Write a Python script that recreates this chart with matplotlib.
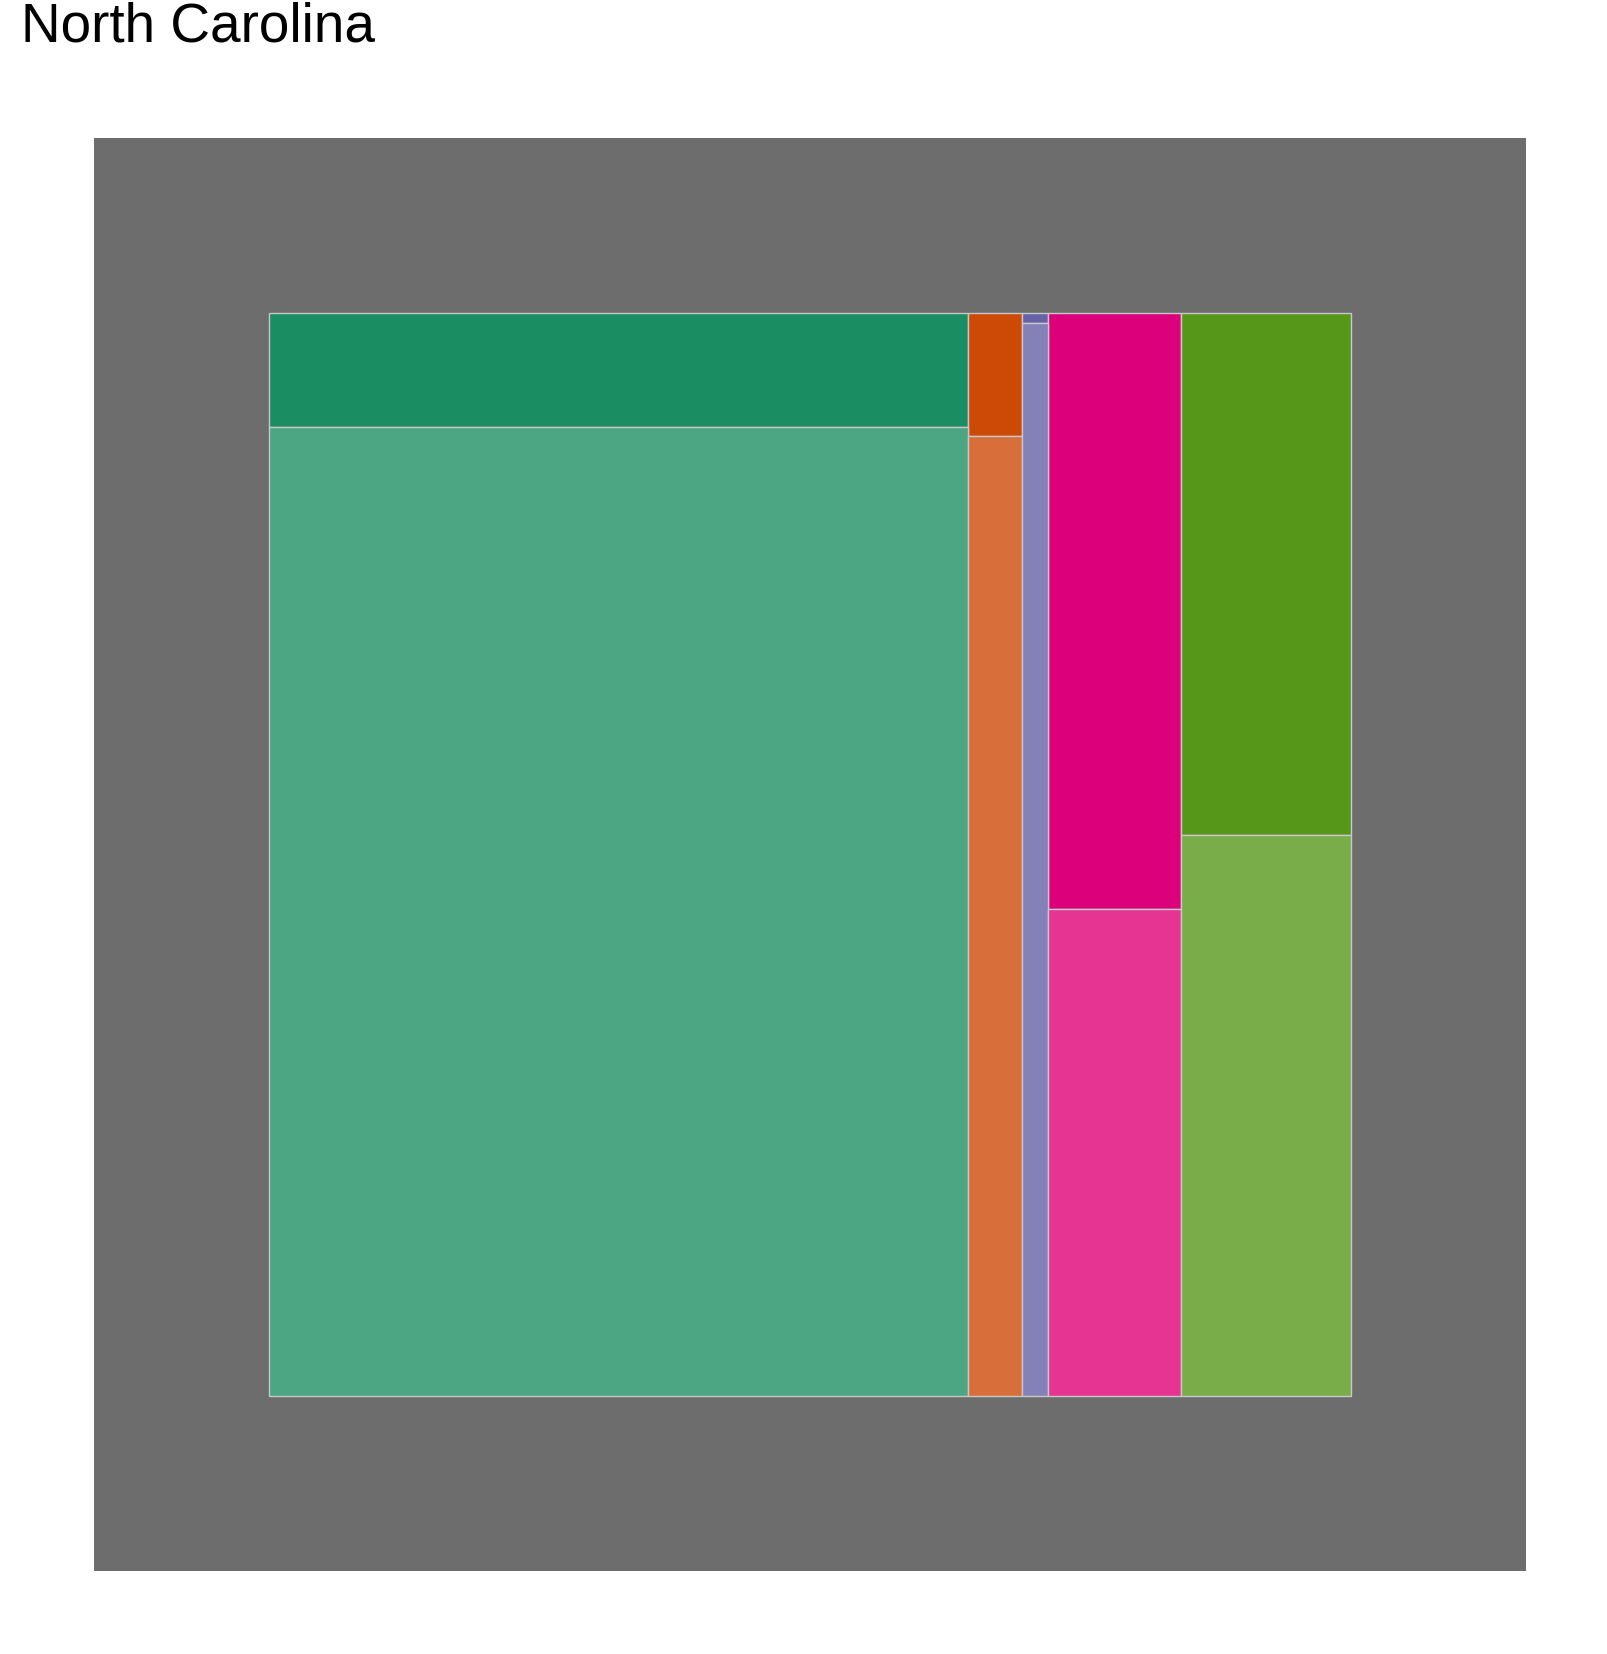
import matplotlib
matplotlib.use("Agg")
import matplotlib.pyplot as plt
import numpy as np

# column share of each group, and share of the "top" level inside each column
groups = ["A", "B", "C", "D", "E"]
col_share = [0.6464, 0.0499, 0.0240, 0.1228, 0.1570]
top_share = [0.105, 0.113, 0.0086, 0.550, 0.482]

dark_cols = ["#1b8d63", "#cc4a06", "#6661a8", "#dd007b", "#569719"]
light_cols = ["#4ca684", "#d86f3b", "#8480b8", "#e53492", "#78ad4a"]

fig = plt.figure(figsize=(16.08, 16.54), dpi=100)
ax = fig.add_axes([94 / 1608, 83 / 1654, 1432 / 1608, 1433 / 1654])
ax.set_facecolor("#6d6d6d")

lefts = np.concatenate([[0], np.cumsum(col_share)[:-1]])
top = np.array(top_share)
ax.bar(lefts, top, width=col_share, bottom=0, align="edge",
       color=dark_cols, edgecolor="#c8c8c8", linewidth=1)
ax.bar(lefts, 1 - top, width=col_share, bottom=top, align="edge",
       color=light_cols, edgecolor="#c8c8c8", linewidth=1)

ax.set_xlim(-0.162, 1.162)
ax.set_ylim(1.162, -0.162)
ax.set_xticks([])
ax.set_yticks([])
for s in ax.spines.values():
    s.set_visible(False)

fig.text(21 / 1608, 1 - 41 / 1654, "North Carolina", fontsize=39.5,
         family="Liberation Sans", ha="left", va="baseline")

fig.savefig("out.png", dpi=100)
